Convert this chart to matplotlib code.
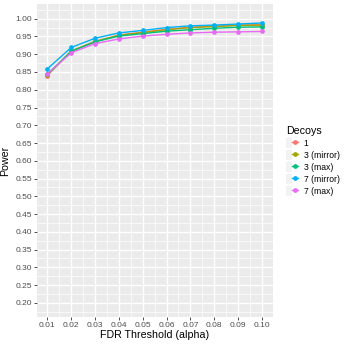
import numpy as np
import matplotlib
matplotlib.use("Agg")
import matplotlib.pyplot as plt
from matplotlib.patches import Patch
from matplotlib.legend_handler import HandlerTuple

plt.rcParams['font.family'] = ['Liberation Sans', 'DejaVu Sans']

# FDR thresholds and power per decoy setting
alpha = [0.01, 0.02, 0.03, 0.04, 0.05, 0.06, 0.07, 0.08, 0.09, 0.10]
power_1 = [0.840, 0.909, 0.936, 0.954, 0.962, 0.970, 0.976, 0.979, 0.982, 0.983]
power_3_mirror = [0.842, 0.909, 0.936, 0.953, 0.961, 0.969, 0.975, 0.978, 0.981, 0.982]
power_3_max = [0.843, 0.908, 0.935, 0.951, 0.958, 0.965, 0.969, 0.973, 0.976, 0.977]
power_7_mirror = [0.859, 0.919, 0.945, 0.960, 0.967, 0.975, 0.980, 0.982, 0.985, 0.988]
power_7_max = [0.845, 0.904, 0.930, 0.943, 0.951, 0.956, 0.960, 0.962, 0.963, 0.964]

labels = ['1', '3 (mirror)', '3 (max)', '7 (mirror)', '7 (max)']
series = [power_1, power_3_mirror, power_3_max, power_7_mirror, power_7_max]
colors = ['#F8766D', '#A3A500', '#00BF7D', '#00B0F6', '#E76BF3']

fig = plt.figure(figsize=(3.46, 3.46), dpi=100)
ax = fig.add_axes([0.106, 0.0835, 0.682, 0.9035])
ax.set_facecolor('#EBEBEB')
for s in ax.spines.values():
    s.set_visible(False)

handles = []
for vals, c, lab in zip(series, colors, labels):
    ln, = ax.plot(alpha, vals, color=c, lw=1.0, marker='o', ms=2.4, mec=c, mfc=c)
    handles.append((Patch(facecolor='#F2F2F2', edgecolor='none'), ln))

ax.set_xlim(0.0055, 0.1045)
ax.set_ylim(0.16, 1.04)
ax.set_xticks(alpha)
ax.set_xticklabels(['%.2f' % a for a in alpha])
yt = np.arange(0.20, 1.001, 0.05)
ax.set_yticks(yt)
ax.set_yticklabels(['%.2f' % v for v in yt])
ax.set_xticks(np.arange(0.015, 0.1, 0.01), minor=True)
ax.set_yticks(np.arange(0.175, 1.03, 0.05), minor=True)

ax.grid(which='major', color='white', lw=1.0)
ax.grid(which='minor', color='white', lw=0.5)
ax.set_axisbelow(True)
ax.tick_params(which='major', length=2.0, width=0.6, color='#333333',
               labelsize=6.0, labelcolor='#4D4D4D', pad=1.2)
ax.tick_params(which='minor', length=0)

ax.set_xlabel('FDR Threshold (alpha)', fontsize=7.7, color='black')
ax.set_ylabel('Power', fontsize=7.7, color='black')
ax.xaxis.set_label_coords(0.5, -0.056)
ax.yaxis.set_label_coords(-0.132, 0.5)
ax.xaxis.label.set_va('center')
ax.yaxis.label.set_va('center')

leg = ax.legend(handles, labels, handler_map={tuple: HandlerTuple(ndivide=None)},
                title='Decoys', loc='center left', bbox_to_anchor=(0.815, 0.535),
                bbox_transform=fig.transFigure, frameon=False, fontsize=6.2,
                title_fontsize=7.7, handlelength=1.4, handleheight=1.4,
                labelspacing=0.25, handletextpad=0.6, borderpad=0)
leg._legend_box.align = 'left'

fig.savefig('out.png', dpi=100)
